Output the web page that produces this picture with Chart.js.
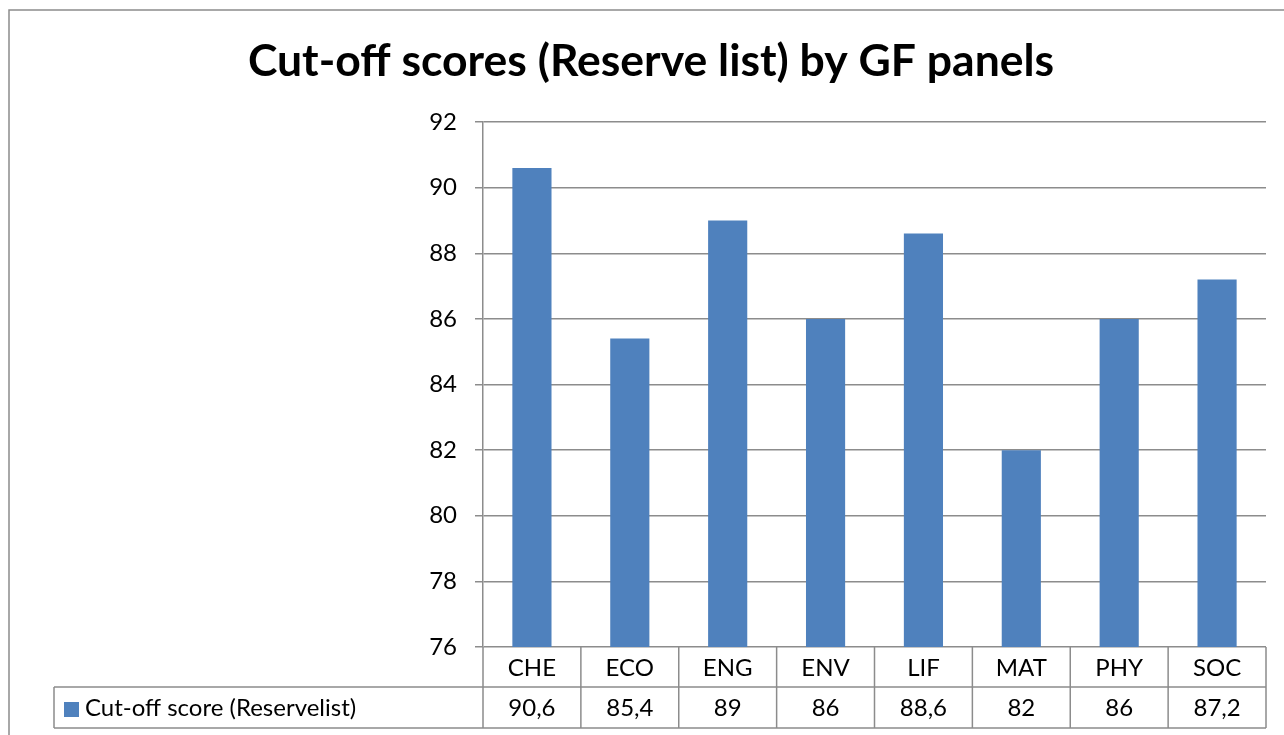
<!DOCTYPE html>
<html>
<head>
<meta charset="utf-8">
<script src="https://cdn.jsdelivr.net/npm/chart.js@4"></script>
<style>
	html, body { margin: 0; padding: 0; background: #fff; }
	#chart { display: block; }
</style>
</head>
<body>
<canvas id="chart" width="1284" height="735"></canvas>
<script>
const panels = ['CHE', 'ECO', 'ENG', 'ENV', 'LIF', 'MAT', 'PHY', 'SOC'];
const cutoffScores = [90.6, 85.4, 89, 86, 88.6, 82, 86, 87.2];
const seriesName = 'Cut-off score (Reservelist)';
const yMin = 76;
const yMax = 92;
const yStep = 2;

const FONT = 'Lato, "Open Sans", sans-serif';
const LINE = '#8c8c8c';
const BLUE = '#4f81bd';

// outer frame + data table under the plot
const tablePlugin = {
	id: 'dataTable',
	afterDraw(chart) {
		let ctx = chart.ctx;
		let area = chart.chartArea;
		let x = chart.scales.x;
		let n = panels.length;
		let w = (area.right - area.left) / n;
		let row1 = area.bottom + 40;
		let row2 = row1 + 41;
		let tableLeft = 54;

		ctx.save();
		ctx.strokeStyle = LINE;
		ctx.lineWidth = 1.5;

		// frame
		ctx.beginPath();
		ctx.moveTo(9, 740);
		ctx.lineTo(9, 10);
		ctx.lineTo(1290, 10);
		ctx.stroke();

		ctx.beginPath();
		ctx.moveTo(tableLeft, row1);
		ctx.lineTo(area.right, row1);
		ctx.moveTo(tableLeft, row2);
		ctx.lineTo(area.right, row2);
		ctx.moveTo(tableLeft, row1);
		ctx.lineTo(tableLeft, row2);
		for (let i = 0; i <= n; i++) {
			let bx = area.left + i * w;
			ctx.moveTo(bx, area.bottom);
			ctx.lineTo(bx, row2);
		}
		ctx.stroke();

		ctx.fillStyle = '#000';
		ctx.font = '24px ' + FONT;
		ctx.textAlign = 'center';
		ctx.textBaseline = 'middle';
		for (let i = 0; i < n; i++) {
			let cx = x.getPixelForValue(i);
			ctx.fillText(panels[i], cx, (area.bottom + row1) / 2 + 1);
			ctx.fillText(String(cutoffScores[i]).replace('.', ','), cx, (row1 + row2) / 2 + 1);
		}

		ctx.fillStyle = BLUE;
		ctx.fillRect(64, 702, 15, 15);
		ctx.fillStyle = '#000';
		ctx.textAlign = 'left';
		ctx.fillText(seriesName, 85, (row1 + row2) / 2 + 1);
		ctx.restore();
	}
};

new Chart(document.getElementById('chart'), {
	type: 'bar',
	data: {
		labels: panels,
		datasets: [{
			label: seriesName,
			data: cutoffScores,
			backgroundColor: BLUE,
			barPercentage: 0.8,
			categoryPercentage: 0.5,
		}]
	},
	options: {
		responsive: false,
		animation: false,
		layout: {
			padding: {left: 36, right: 18, top: 0, bottom: 88}
		},
		plugins: {
			legend: {display: false},
			tooltip: {enabled: false},
			title: {
				display: true,
				text: 'Cut-off scores (Reserve list) by GF panels',
				color: '#000',
				font: {family: FONT, size: 44.5, weight: 'bold', lineHeight: 1.2},
				padding: {top: 35, bottom: 33.6}
			}
		},
		scales: {
			x: {
				display: false,
			},
			y: {
				min: yMin,
				max: yMax,
				afterFit: (scale) => { scale.width = 447; },
				ticks: {
					stepSize: yStep,
					padding: 18,
					color: '#000',
					font: {family: FONT, size: 24}
				},
				grid: {
					color: LINE,
					lineWidth: 1.5,
					tickLength: 8,
					tickColor: LINE
				},
				border: {color: LINE, width: 1.5}
			}
		}
	},
	plugins: [tablePlugin]
});
</script>
</body>
</html>
